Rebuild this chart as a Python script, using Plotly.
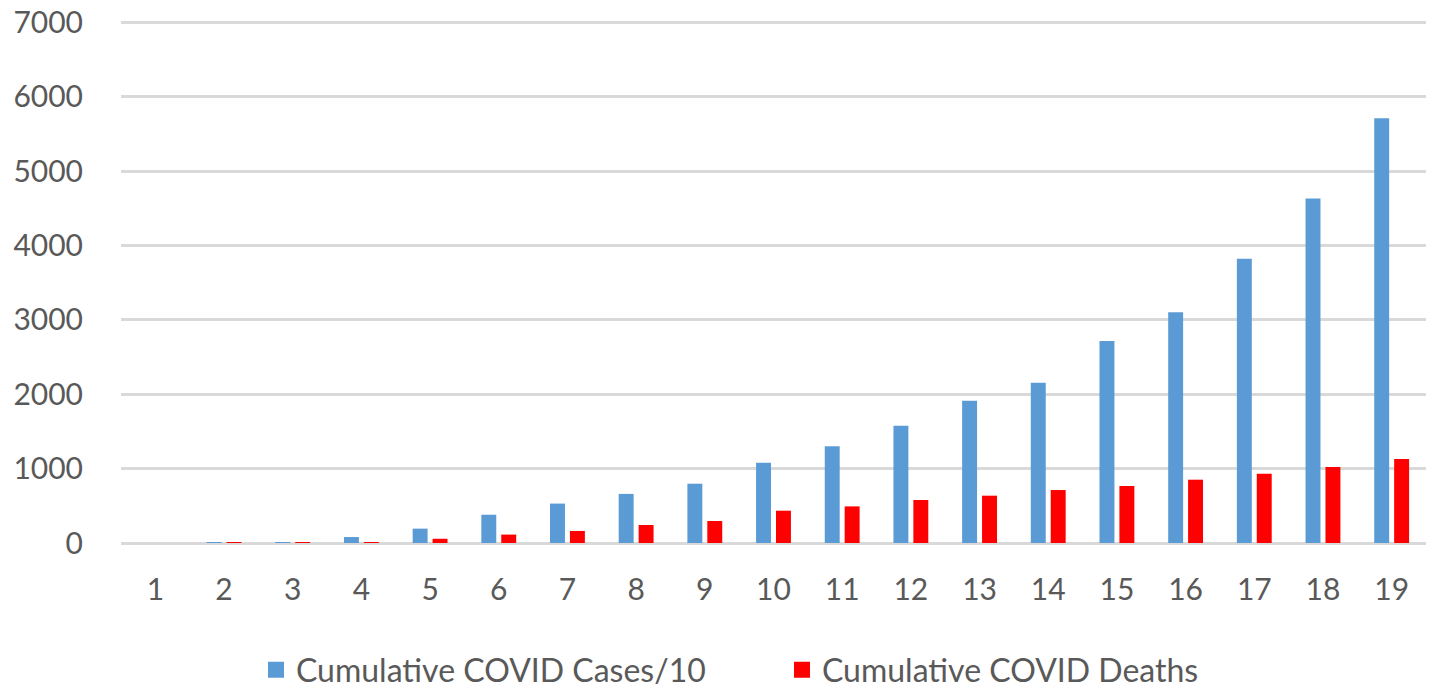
import plotly.graph_objects as go

days = [str(i) for i in range(1, 20)]
cases_div10 = [0, 8, 12, 80, 193, 380, 530, 660, 797, 1079, 1300, 1577, 1913, 2155, 2715, 3100, 3820, 4630, 5710]
deaths = [0, 2, 4, 12, 57, 113, 162, 242, 296, 434, 492, 578, 636, 712, 766, 851, 932, 1021, 1129]
y_ticks = [0, 1000, 2000, 3000, 4000, 5000, 6000, 7000]
series_names = ["Cumulative COVID Cases/10", "Cumulative COVID Deaths"]
series_colors = ["#5b9bd5", "#ff0000"]

FONT = "Lato"
GREY = "#595959"

fig = go.Figure()
for vals, name, col in zip([cases_div10, deaths], series_names, series_colors):
    fig.add_trace(go.Bar(x=days, y=vals, name=name, showlegend=False,
                         marker=dict(color=col, line=dict(width=0))))
# legend entries with larger square swatches
for name, col in zip(series_names, series_colors):
    fig.add_trace(go.Scatter(x=[None], y=[None], mode="markers", name=name,
                             marker=dict(symbol="square", size=18, color=col)))

fig.update_layout(
    width=1440, height=690,
    paper_bgcolor="white", plot_bgcolor="white",
    margin=dict(l=121, r=14, t=20, b=147, autoexpand=False),
    barmode="group", bargap=0.42, bargroupgap=0.25,
    font=dict(family=FONT, size=30, color=GREY),
    showlegend=True,
    legend=dict(orientation="h", xref="container", x=256 / 1440, xanchor="left",
                yref="container", y=1 - 670 / 690, yanchor="middle",
                font=dict(family=FONT, size=32, color=GREY),
                entrywidth=481, entrywidthmode="pixels",
                itemwidth=30, tracegroupgap=0),
    xaxis=dict(showgrid=False, zeroline=False, showline=False, ticks="", automargin=False,
               tickfont=dict(family=FONT, size=30, color=GREY), ticklabelstandoff=26),
    yaxis=dict(range=[0, 7030], tickvals=y_ticks, showgrid=True, gridcolor="#d9d9d9", gridwidth=2.5,
               zeroline=True, zerolinecolor="#d9d9d9", zerolinewidth=2.5, showline=False, ticks="",
               automargin=False,
               tickfont=dict(family=FONT, size=30, color=GREY), ticklabelstandoff=37),
)

fig.write_html("out.html", config={"displayModeBar": False},
               post_script="document.body.style.margin='0px';")
